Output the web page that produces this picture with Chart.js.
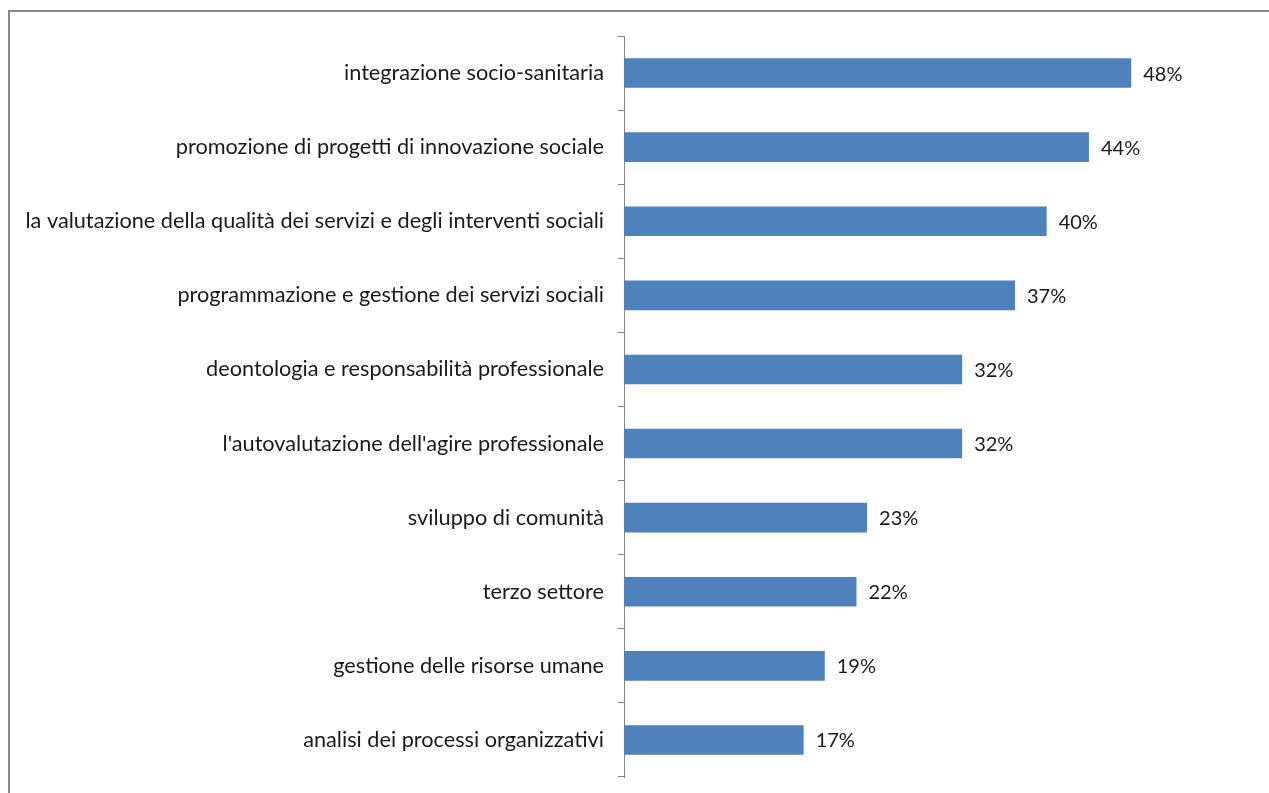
<!DOCTYPE html>
<html>
<head>
<meta charset="utf-8">
<script src="https://cdn.jsdelivr.net/npm/chart.js@4"></script>
<style>
    body { margin: 0; background: #fff; overflow: hidden; }
    #cornice {
        position: absolute; left: 8px; top: 10px; width: 1300px; height: 800px;
        border-top: 2px solid #888; border-left: 2px solid #888;
    }
    #contenitore { position: absolute; left: 0; top: 0; width: 1269px; height: 793px; }
</style>
</head>
<body>
<div id="cornice"></div>
<div id="contenitore"><canvas id="graficoBarre"></canvas></div>
<script>
// Dati del grafico
const categorie = [
    'integrazione socio-sanitaria',
    'promozione di progetti di innovazione sociale',
    'la valutazione della qualità dei servizi e degli interventi sociali',
    'programmazione e gestione dei servizi sociali',
    'deontologia e responsabilità professionale',
    "l'autovalutazione dell'agire professionale",
    'sviluppo di comunità',
    'terzo settore',
    'gestione delle risorse umane',
    'analisi dei processi organizzativi'
];
const percentuali = [48, 44, 40, 37, 32, 32, 23, 22, 19, 17];
const assePercentuale = { min: 0, max: 60 };

const fontTesto = { family: 'Lato, "Open Sans", sans-serif', size: 21.7 };

// Etichette dei valori a destra delle barre
const etichetteValori = {
    id: 'etichetteValori',
    afterDatasetsDraw(chart) {
        const ctx = chart.ctx;
        ctx.save();
        ctx.font = '20px ' + fontTesto.family;
        ctx.fillStyle = '#1a1a1a';
        ctx.textAlign = 'left';
        ctx.textBaseline = 'middle';
        chart.getDatasetMeta(0).data.forEach((barra, i) => {
            ctx.fillText(percentuali[i] + '%', barra.x + 12, barra.y + 1);
        });
        ctx.restore();
    }
};

const ctx = document.getElementById('graficoBarre').getContext('2d');
new Chart(ctx, {
    type: 'bar',
    data: {
        labels: categorie,
        datasets: [{
            data: percentuali,
            backgroundColor: '#4F81BD',
            barPercentage: 0.4,
            categoryPercentage: 1
        }]
    },
    options: {
        indexAxis: 'y',
        responsive: true,
        maintainAspectRatio: false,
        animation: false,
        layout: { padding: { top: 36, bottom: 16, right: 11, left: 0 } },
        plugins: { legend: { display: false }, tooltip: { enabled: false } },
        scales: {
            x: {
                display: false,
                min: assePercentuale.min,
                max: assePercentuale.max
            },
            y: {
                afterFit: function(scale) {
                    scale.width = 624;
                    scale.paddingTop = 0;
                    scale.paddingBottom = 0;
                },
                grid: {
                    drawOnChartArea: false,
                    drawTicks: true,
                    tickLength: 6,
                    color: '#868686',
                    offset: true
                },
                border: { display: true, color: '#868686', width: 1 },
                ticks: {
                    color: '#1a1a1a',
                    padding: 14,
                    font: fontTesto
                }
            }
        }
    },
    plugins: [etichetteValori]
});
</script>
</body>
</html>
